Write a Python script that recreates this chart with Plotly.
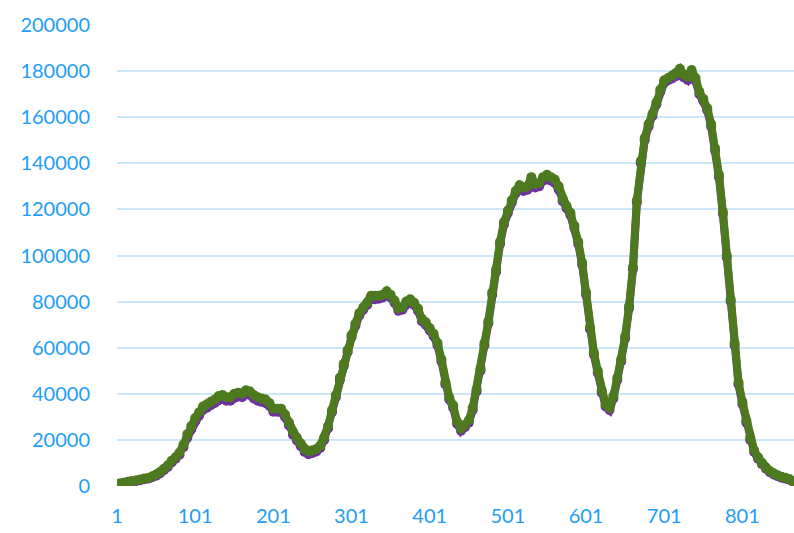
import plotly.graph_objects as go

# Sample positions (every 5th index)
x_index = list(range(1, 867, 5))

# Green series values
series_green = [
    1000, 1200, 1500, 1900, 2200, 2500, 2800, 3200, 3500, 4200,
    5000, 6000, 7500, 9000, 11000, 12500, 14500, 18000, 22500, 26000,
    29500, 32000, 34500, 35500, 36500, 37500, 39000, 39500, 38500, 38500,
    40000, 40500, 40000, 41500, 41000, 39500, 38500, 38000, 37500, 36000,
    33500, 33500, 33500, 31000, 27500, 23500, 21000, 18500, 16000, 15000,
    15500, 16000, 17500, 21000, 26000, 33000, 39500, 47000, 53000, 59000,
    65500, 70500, 75000, 77500, 79500, 82500, 82500, 82500, 83000, 84500,
    83000, 80500, 77000, 77500, 80000, 81000, 79500, 77000, 72500, 71000,
    68500, 66000, 62000, 55000, 45000, 38500, 35000, 28000, 25000, 26500,
    28500, 34000, 42000, 51000, 62000, 71500, 84000, 94000, 106000, 114500,
    119500, 124000, 128000, 130500, 129500, 130000, 134000, 131000, 131500, 134000,
    135000, 134000, 133000, 130000, 124500, 121500, 118500, 113000, 106000, 97000,
    84000, 69000, 58000, 50000, 41500, 35500, 34000, 39000, 47000, 55000,
    65000, 78000, 95000, 124000, 141000, 151000, 157000, 161500, 166500, 172000,
    176000, 177000, 178000, 179000, 181000, 178500, 177500, 180500, 177000, 171000,
    168000, 164000, 157000, 146500, 135000, 119000, 100000, 81000, 62000, 45000,
    36500, 28500, 21000, 15500, 12500, 10000, 8000, 6500, 5500, 4700,
    4000, 3600, 3000, 2000,
]

# Purple series values
series_purple = [
    800, 1000, 1300, 1600, 1900, 2200, 2500, 2900, 3200, 3800,
    4500, 5400, 6800, 8300, 10200, 11800, 13600, 16800, 21000, 24500,
    28000, 30500, 33000, 34000, 35000, 36000, 37200, 37800, 37000, 37000,
    38200, 38800, 38500, 39800, 39500, 38000, 37000, 36500, 36000, 34800,
    32200, 32200, 32000, 29800, 26300, 22300, 19800, 17300, 14800, 13800,
    14300, 15000, 16500, 20000, 25000, 32000, 38500, 46000, 52000, 58000,
    64500, 69500, 74000, 76500, 78500, 81000, 81000, 81200, 81800, 83000,
    81800, 79500, 76000, 76500, 79000, 80000, 78500, 76000, 71500, 70000,
    67500, 65000, 61000, 54000, 44000, 37500, 34000, 27000, 24000, 25500,
    27500, 33000, 41000, 50000, 61000, 70500, 83000, 93000, 105000, 113500,
    118500, 123000, 127000, 129500, 128000, 128500, 132500, 129500, 130000, 132500,
    133500, 132500, 131500, 128500, 123500, 120500, 117500, 112000, 105000, 96000,
    83000, 68000, 57000, 49000, 40500, 34500, 33000, 38000, 46000, 54000,
    64000, 77000, 94000, 123000, 140000, 150000, 156000, 160500, 165500, 171000,
    175000, 176000, 176800, 177800, 179500, 177200, 176200, 179200, 175800, 170000,
    167000, 163000, 156000, 145500, 134000, 118000, 99000, 80000, 61000, 44000,
    35500, 27500, 20000, 14800, 11800, 9400, 7500, 6000, 5000, 4300,
    3600, 3200, 2700, 1800,
]

# Axis ticks
x_ticks = [1, 101, 201, 301, 401, 501, 601, 701, 801]
x_tick_text = ["1", "101", "201", "301", "401", "501", "601", "701", "801"]
y_ticks = [0, 20000, 40000, 60000, 80000, 100000, 120000, 140000, 160000, 180000, 200000]
y_tick_text = [str(v) for v in y_ticks]

label_color = "#1E9DFA"
grid_color = "#CBE8FB"

fig = go.Figure()

fig.add_trace(go.Scatter(
    x=x_index, y=series_purple, mode="lines+markers",
    line=dict(color="#7030A0", width=8),
    marker=dict(color="#7030A0", size=10),
    showlegend=False, hoverinfo="skip",
))
fig.add_trace(go.Scatter(
    x=x_index, y=series_green, mode="lines+markers",
    line=dict(color="#4E7A1F", width=8),
    marker=dict(color="#4E7A1F", size=10),
    showlegend=False, hoverinfo="skip",
))

fig.update_layout(
    width=794, height=533,
    margin=dict(l=117, r=0, t=25, b=47),
    paper_bgcolor="white", plot_bgcolor="white",
    font=dict(family="Lato, Open Sans, sans-serif", size=20, color=label_color),
)

fig.update_xaxes(
    range=[1, 867], tickmode="array", tickvals=x_ticks, ticktext=x_tick_text,
    showgrid=False, zeroline=False, showline=False,
    ticks="outside", ticklen=12, tickcolor="rgba(0,0,0,0)",
    tickfont=dict(size=20, color=label_color),
)
fig.update_yaxes(
    range=[0, 200000], tickmode="array", tickvals=y_ticks, ticktext=y_tick_text,
    showgrid=True, gridcolor=grid_color, gridwidth=2,
    zeroline=False, showline=False,
    ticks="outside", ticklen=22, tickcolor="rgba(0,0,0,0)",
    tickfont=dict(size=20, color=label_color),
)

fig.write_html("out.html")
